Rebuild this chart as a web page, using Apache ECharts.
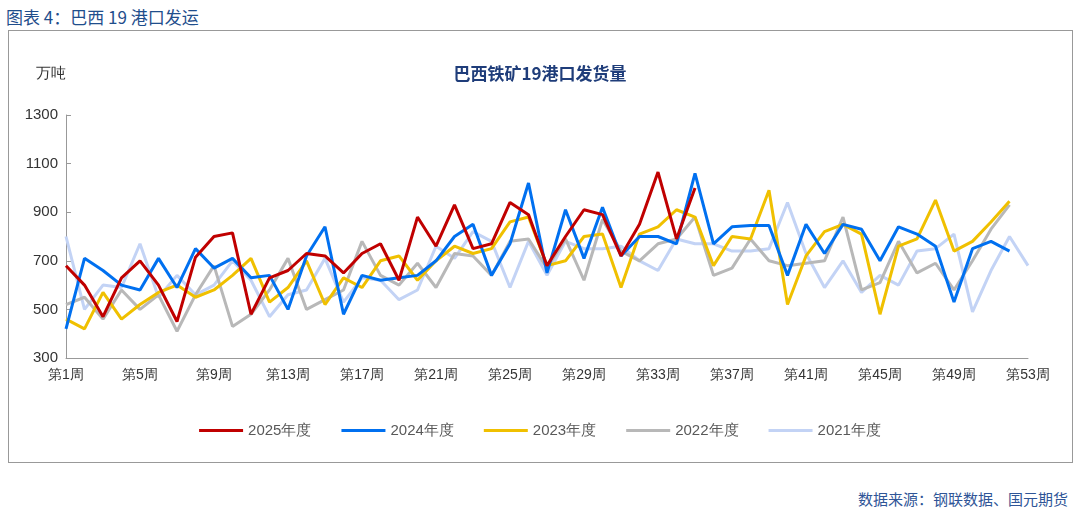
<!DOCTYPE html>
<html>
<head>
<meta charset="utf-8">
<script src="https://cdn.jsdelivr.net/npm/echarts@6/dist/echarts.min.js"></script>
<style>
body{margin:0;width:1080px;height:517px;background:#fff;font-family:"Noto Sans CJK SC",sans-serif;position:relative;overflow:hidden}
#hdr{position:absolute;left:6px;top:4px;font-size:17px;color:#1f4e8c}
#box{position:absolute;left:8px;top:30px;width:1063px;height:431px;border:1px solid #999}
#src{position:absolute;right:12px;top:488px;font-size:15px;color:#2f5597}
#chart{position:absolute;left:0;top:0;width:1080px;height:517px}
</style>
</head>
<body>
<div id="hdr">图表 4：巴西 19 港口发运</div>
<div id="box"></div>
<div id="src">数据来源：钢联数据、国元期货</div>
<div id="chart"></div>
<script>
var weeks = [];
for (var i = 1; i <= 53; i++) weeks.push('第' + i + '周');
var names = ['2025年度', '2024年度', '2023年度', '2022年度', '2021年度'];
var colors = ['#c00000', '#0070f0', '#f0c000', '#b8b8b8', '#c3d3f5'];
var y2025 = [680,600,470,630,700,600,450,715,800,815,480,630,660,730,720,650,730,770,620,880,760,930,750,770,940,890,680,800,910,890,720,850,1065,790,1000];
var y2024 = [420,710,660,600,580,710,590,750,670,710,630,640,500,720,840,480,640,620,630,640,700,800,850,640,770,1020,650,910,710,920,720,800,800,770,1060,770,840,845,845,640,850,730,850,830,700,840,810,760,530,750,780,740];
var y2023 = [460,420,570,460,520,570,600,550,580,640,710,530,590,700,520,630,590,700,720,620,700,760,730,750,860,880,680,700,800,810,590,810,840,910,880,680,800,790,990,520,720,820,850,810,480,760,790,950,740,780,860,945];
var y2022 = [520,550,460,580,500,560,410,560,680,430,480,580,710,500,540,580,780,640,600,690,590,730,720,640,780,790,670,790,620,870,740,700,770,790,880,640,670,790,700,680,690,700,880,580,610,780,650,690,580,700,830,930];
var y2021 = [800,500,600,590,770,550,640,560,600,700,620,470,560,580,710,530,630,620,540,580,760,710,820,780,590,780,640,780,750,750,760,700,660,790,770,770,740,740,750,940,730,590,700,570,640,600,740,750,810,490,660,800,680];
var data = [y2025, y2024, y2023, y2022, y2021];

var chart = echarts.init(document.getElementById('chart'));
var series = [];
for (var k = 0; k < 5; k++) {
  series.push({
    name: names[k], type: 'line', data: data[k], symbol: 'none',
    lineStyle: {width: 3, color: colors[k]}, itemStyle: {color: colors[k]}, z: 10 - k
  });
}
chart.setOption({
  animation: false,
  title: {text: '巴西铁矿19港口发货量', left: 'center', top: 60,
    textStyle: {fontSize: 17, fontWeight: 'bold', color: '#1f3d7a', fontFamily: 'Noto Sans CJK SC'}},
  grid: {left: 66, right: 52, top: 115, bottom: 159},
  legend: {bottom: 74, itemWidth: 44, itemHeight: 3, itemGap: 30, icon: 'rect',
    textStyle: {fontSize: 15, color: '#595959'}},
  xAxis: {type: 'category', data: weeks, boundaryGap: false,
    axisLine: {lineStyle: {color: '#999'}}, axisTick: {show: false},
    axisLabel: {interval: 3, fontSize: 14, color: '#333', margin: 10}},
  yAxis: {type: 'value', min: 300, max: 1300, interval: 200, name: '万吨',
    nameGap: 34, nameTextStyle: {fontSize: 15, color: '#333', align: 'right'},
    axisLine: {show: true, lineStyle: {color: '#999'}}, axisTick: {show: true, inside: true, lineStyle: {color: '#999'}},
    splitLine: {show: false}, axisLabel: {fontSize: 15, color: '#333', formatter: function (v) { return String(v); }}},
  series: series
});
</script>
</body>
</html>
